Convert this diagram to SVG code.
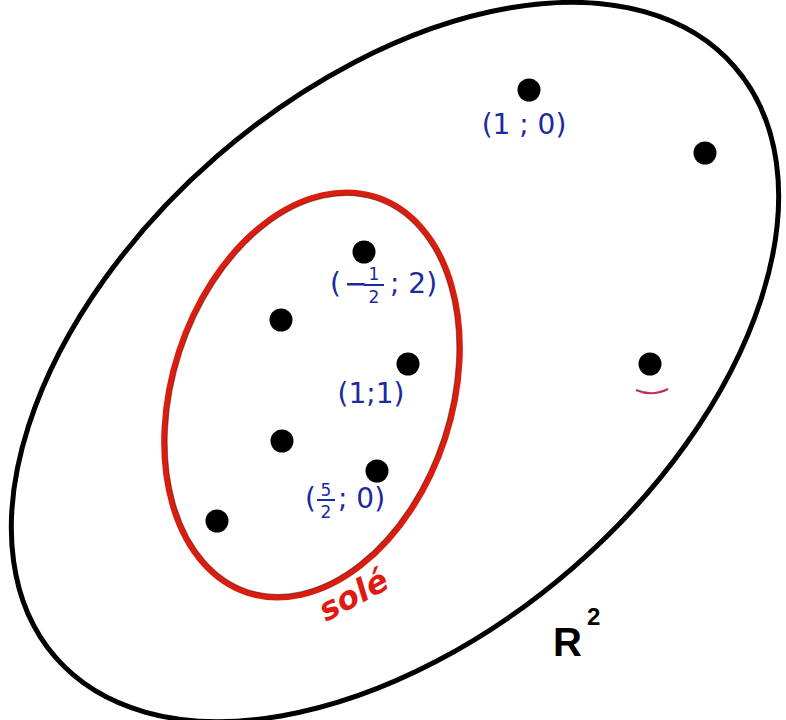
<svg xmlns="http://www.w3.org/2000/svg" width="786" height="720" viewBox="0 0 786 720">
<style>
.lbl{font-family:"DejaVu Sans","Liberation Sans",sans-serif;fill:#1c2a9c;font-size:28px}
.sm{font-family:"DejaVu Sans","Liberation Sans",sans-serif;fill:#1c2a9c;font-size:17px}
.dot{fill:#000}
</style>
<rect width="786" height="720" fill="#fff"/>
<g id="outer-set">
<ellipse cx="395" cy="362" rx="450" ry="272" transform="rotate(-41 395 362)" fill="none" stroke="#000" stroke-width="5"/>
</g>
<g id="solution-set">
<ellipse cx="312" cy="395" rx="140" ry="208" transform="rotate(18 312 395)" fill="none" stroke="#d81e10" stroke-width="6"/>
<ellipse cx="312" cy="395" rx="137" ry="205" transform="rotate(18 312 395)" fill="none" stroke="#5a0a00" stroke-width="1.2" opacity="0.5"/>
</g>
<g id="points">
<circle class="dot" cx="529" cy="90" r="11.5"/>
<circle class="dot" cx="705" cy="153" r="11.5"/>
<circle class="dot" cx="364" cy="252" r="11.5"/>
<circle class="dot" cx="281" cy="320" r="11.5"/>
<circle class="dot" cx="408" cy="364" r="11.5"/>
<circle class="dot" cx="650" cy="364" r="11.5"/>
<circle class="dot" cx="282" cy="441" r="11.5"/>
<circle class="dot" cx="377" cy="471" r="11.5"/>
<circle class="dot" cx="217" cy="521" r="11.5"/>
<path d="M636 390 Q652 397 668 389" fill="none" stroke="#c03050" stroke-width="2"/>
</g>
<g id="label-1-0">
<text class="lbl" x="524" y="134" text-anchor="middle" font-size="30">(1 ; 0)</text>
</g>
<g id="label-m12-2">
<text class="lbl" x="330" y="293">(</text>
<text class="lbl" x="344" y="293">−</text>
<text class="sm" x="374" y="280" text-anchor="middle">1</text>
<line x1="364" y1="285" x2="384" y2="285" stroke="#1c2a9c" stroke-width="2"/>
<text class="sm" x="374" y="303" text-anchor="middle">2</text>
<text class="lbl" x="390" y="293">; 2)</text>
</g>
<g id="label-1-1">
<text class="lbl" x="371" y="403" text-anchor="middle">(1;1)</text>
</g>
<g id="label-52-0">
<text class="lbl" x="305" y="508">(</text>
<text class="sm" x="326" y="496" text-anchor="middle">5</text>
<line x1="317" y1="500" x2="335" y2="500" stroke="#1c2a9c" stroke-width="2"/>
<text class="sm" x="326" y="518" text-anchor="middle">2</text>
<text class="lbl" x="338" y="508">; 0)</text>
</g>
<g id="label-sol">
<text x="326" y="622" font-family="DejaVu Sans, sans-serif" font-size="32" font-style="italic" font-weight="bold" fill="#e01a10" transform="rotate(-28 326 622)">solé</text>
</g>
<g id="label-R2">
<text x="553" y="656" font-family="Liberation Sans, sans-serif" font-size="40" font-weight="bold" fill="#000">R</text>
<text x="587" y="625" font-family="Liberation Sans, sans-serif" font-size="24" font-weight="bold" fill="#000">2</text>
</g>
</svg>
